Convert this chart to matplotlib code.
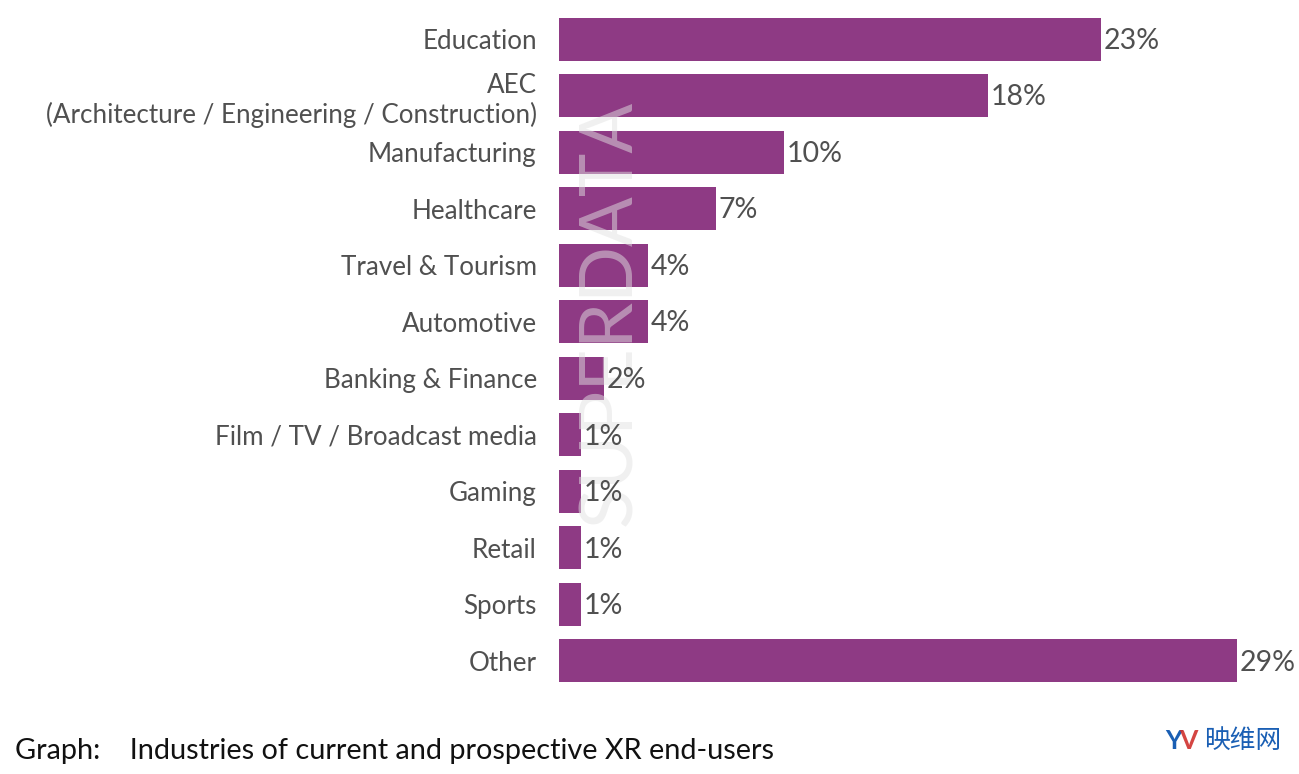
import matplotlib
matplotlib.use("Agg")
import matplotlib.pyplot as plt

# industries, top to bottom
industries = [
    "Education",
    "AEC\n(Architecture / Engineering / Construction)",
    "Manufacturing",
    "Healthcare",
    "Travel & Tourism",
    "Automotive",
    "Banking & Finance",
    "Film / TV / Broadcast media",
    "Gaming",
    "Retail",
    "Sports",
    "Other",
]
# share of respondents (%), bar lengths
shares = [23.1, 18.3, 9.6, 6.7, 3.8, 3.8, 1.9, 0.95, 0.95, 0.95, 0.95, 28.9]
share_labels = ["23%", "18%", "10%", "7%", "4%", "4%", "2%", "1%", "1%", "1%", "1%", "29%"]

BAR_COLOR = "#8e3a84"
TEXT_COLOR = "#505050"

plt.rcParams["font.family"] = ["Lato", "DejaVu Sans"]

fig = plt.figure(figsize=(12.99, 7.74), dpi=100)
ax = fig.add_axes([559 / 1299, 1 - 689.25 / 774, (1237 - 559) / 1299, (689.25 - 10.75) / 774])

ypos = list(range(len(industries)))
ax.barh(ypos, shares, height=0.76, color=BAR_COLOR, zorder=2)
ax.set_ylim(len(industries) - 0.5, -0.5)
ax.set_xlim(0, 28.9)

# faint watermark, sits under the value labels
ax.text(2.2, 4.85, "SUPERDATA", rotation=90, ha="center", va="center", fontsize=53,
        fontweight="normal", color="#e2e2e2", alpha=0.5, zorder=3)

for y, v, lab in zip(ypos, shares, share_labels):
    ax.text(v + 0.12, y + 0.03, lab, va="center", ha="left", fontsize=20.5,
            color=TEXT_COLOR, zorder=4)

ax.set_yticks(ypos)
ax.set_yticklabels(industries, fontsize=18.7, color=TEXT_COLOR, linespacing=1.2)
ax.tick_params(axis="y", length=0, pad=16)
ax.set_xticks([])
for s in ax.spines.values():
    s.set_visible(False)

fig.text(15 / 1299, 1 - 751 / 774, "Graph:    Industries of current and prospective XR end-users",
         fontsize=20.8, color="#111111", va="center", ha="left")

# logo at bottom right
fig.text(1165 / 1299, 1 - 741 / 774, "Y", fontsize=19, fontweight="bold", color="#1a5fb4",
         va="center", ha="left")
fig.text(1179 / 1299, 1 - 741 / 774, "V", fontsize=19, fontweight="bold", color="#d0312d",
         va="center", ha="left", alpha=0.9)
fig.text(1204 / 1299, 1 - 741 / 774, "映维网", fontsize=18.5, color="#1a5fb4",
         va="center", ha="left", family=["Noto Sans CJK SC", "DejaVu Sans"])

fig.savefig("out.png", dpi=100, facecolor="white")
